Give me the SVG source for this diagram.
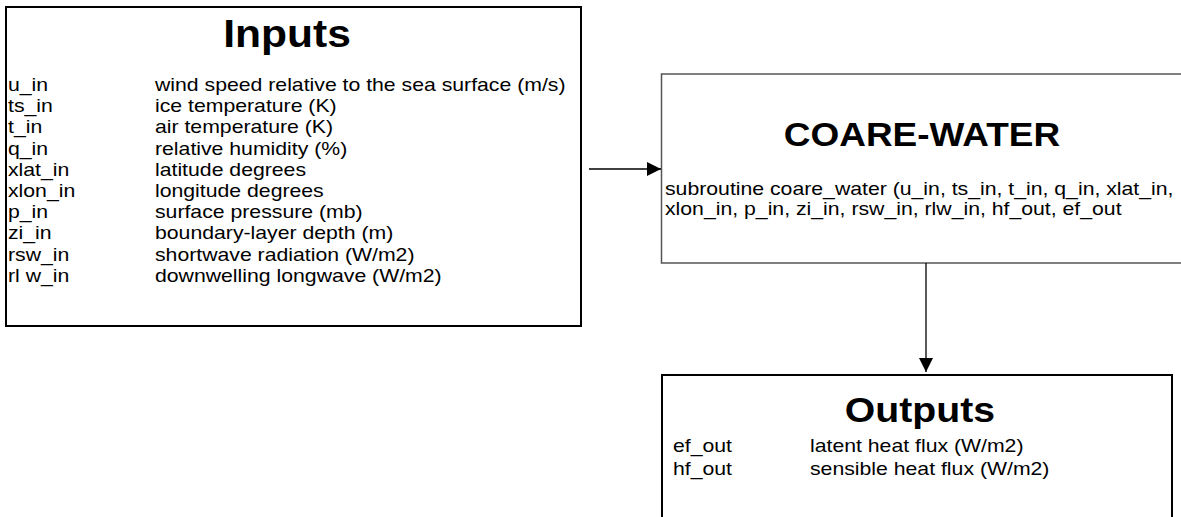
<svg xmlns="http://www.w3.org/2000/svg" width="1181" height="517" viewBox="0 0 1181 517">
  <defs>
    <style>
      .box { fill: #ffffff; stroke: #000000; stroke-width: 2; }
      .thin { fill: #ffffff; stroke: #555555; stroke-width: 1.5; }
      .title { font-family: "Liberation Sans", Arial, sans-serif; font-weight: bold; fill: #000; text-anchor: middle; }
      .txt { font-family: "Liberation Sans", Arial, sans-serif; font-size: 18px; fill: #000; }
      .conn { stroke: #000; stroke-width: 1.3; fill: none; }
    </style>
    <marker id="arrow" markerWidth="14" markerHeight="14" refX="14" refY="7" orient="auto" markerUnits="userSpaceOnUse">
      <path d="M0,0 L14,7 L0,14 Z" fill="#000"/>
    </marker>
  </defs>
  <rect width="1181" height="517" fill="#ffffff"/>

  <!-- Inputs node: variable list of the subroutine arguments -->
  <g id="inputs">
    <rect class="box" x="6" y="7" width="575" height="319"/>
    <g transform="scale(1.12,1)">
      <text class="title" x="256.25" y="47" font-size="38">Inputs</text>
    </g>
    <!-- wide-set body text: columns at x=8 and x=155 after the horizontal scale -->
    <g class="txt" transform="scale(1.18,1)">
      <text x="6.78" y="91">u_in</text><text x="131.36" y="91">wind speed relative to the sea surface (m/s)</text>
      <text x="6.78" y="112.2">ts_in</text><text x="131.36" y="112.2">ice temperature (K)</text>
      <text x="6.78" y="133.4">t_in</text><text x="131.36" y="133.4">air temperature (K)</text>
      <text x="6.78" y="154.6">q_in</text><text x="131.36" y="154.6">relative humidity (%)</text>
      <text x="6.78" y="175.8">xlat_in</text><text x="131.36" y="175.8">latitude degrees</text>
      <text x="6.78" y="197">xlon_in</text><text x="131.36" y="197">longitude degrees</text>
      <text x="6.78" y="218.2">p_in</text><text x="131.36" y="218.2">surface pressure (mb)</text>
      <text x="6.78" y="239.4">zi_in</text><text x="131.36" y="239.4">boundary-layer depth (m)</text>
      <text x="6.78" y="260.6">rsw_in</text><text x="131.36" y="260.6">shortwave radiation (W/m2)</text>
      <text x="6.78" y="281.8">rl w_in</text><text x="131.36" y="281.8">downwelling longwave (W/m2)</text>
    </g>
  </g>

  <!-- COARE-WATER node: runs past the right edge of the canvas -->
  <g id="coare">
    <rect class="thin" x="661.5" y="74" width="540" height="189"/>
    <g transform="scale(1.12,1)">
      <text class="title" x="823.2" y="146" font-size="33">COARE-WATER</text>
    </g>
    <g class="txt" transform="scale(1.18,1)">
      <text x="563.56" y="195">subroutine coare_water (u_in, ts_in, t_in, q_in, xlat_in,</text>
      <text x="563.56" y="215">xlon_in, p_in, zi_in, rsw_in, rlw_in, hf_out, ef_out</text>
    </g>
  </g>

  <!-- Outputs node: runs past the bottom edge of the canvas -->
  <g id="outputs">
    <rect class="box" x="662" y="375" width="510" height="160"/>
    <g transform="scale(1.12,1)">
      <text class="title" x="821.4" y="422" font-size="35">Outputs</text>
    </g>
    <g class="txt" transform="scale(1.18,1)">
      <text x="570.34" y="452.5">ef_out</text><text x="686.44" y="452.5">latent heat flux (W/m2)</text>
      <text x="570.34" y="475.5">hf_out</text><text x="686.44" y="475.5">sensible heat flux (W/m2)</text>
    </g>
  </g>

  <!-- Connectors -->
  <g id="connectors">
    <line class="conn" x1="589" y1="169" x2="661" y2="169" marker-end="url(#arrow)"/>
    <line class="conn" x1="926" y1="263" x2="926" y2="372" marker-end="url(#arrow)"/>
  </g>
</svg>
